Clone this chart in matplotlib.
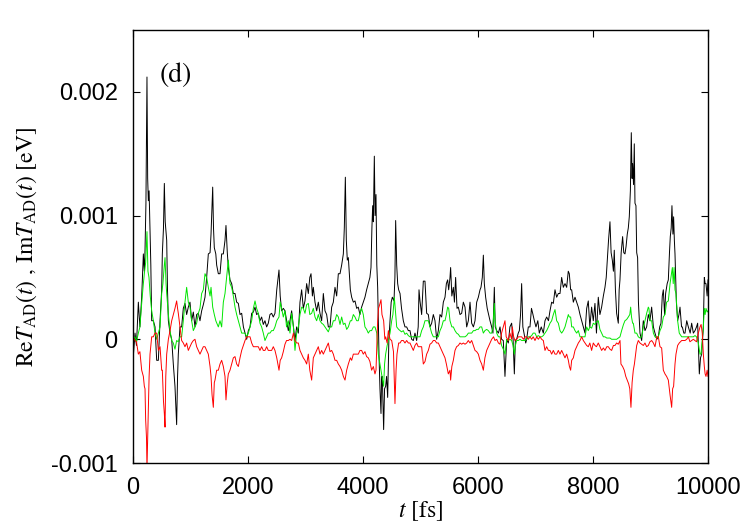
import matplotlib
matplotlib.use("Agg")
import matplotlib.pyplot as plt
import numpy as np

# ---- data: (t [fs], value [1e-3 eV]) ----
black_pts = [
(0,-0.17),(35,0.05),(60,-0.05),(93,0.30),(120,0.10),(151,0.34),(180,0.69),(197,0.55),(209,0.72),(225,1.10),(243,2.12),(255,1.30),(267,1.12),(280,1.20),(296,0.88),(310,0.60),(325,0.15),(354,0.15),(383,0.10),(412,-0.17),(441,-0.17),(470,0.15),(499,0.40),(510,0.69),(530,0.90),(545,1.26),(560,0.95),(586,0.80),(600,0.40),(615,0.15),(644,0.05),(673,0.00),(701,-0.20),(730,-0.38),(745,-0.55),(759,-0.69),(775,-0.30),(788,-0.12),(817,0.10),(846,0.10),(875,0.25),(904,0.29),(933,0.20),(962,0.26),(991,0.30),(1020,0.15),(1049,0.22),(1078,0.10),(1107,0.20),(1136,0.21),(1165,0.15),(1194,0.23),(1223,0.28),(1252,0.34),(1281,0.50),(1310,0.69),(1340,0.70),(1357,0.85),(1386,1.23),(1400,0.90),(1414,0.74),(1440,0.69),(1455,0.60),(1484,0.53),(1513,0.53),(1542,0.69),(1571,0.69),(1600,0.80),(1617,0.92),(1640,0.70),(1658,0.58),(1687,0.48),(1716,0.45),(1745,0.37),(1774,0.37),(1803,0.30),(1832,0.29),(1861,0.20),(1890,0.21),(1920,0.10),(1948,0.05),(1977,0.00),(2006,0.07),(2035,0.10),(2064,0.21),(2093,0.22),(2122,0.26),(2150,0.20),(2179,0.21),(2208,0.15),(2237,0.18),(2266,0.12),(2295,0.15),(2324,0.10),(2353,0.13),(2382,0.20),(2411,0.21),(2440,0.18),(2469,0.21),(2500,0.40),(2539,0.56),(2560,0.35),(2585,0.23),(2614,0.25),(2643,0.23),
(2701,0.07),(2730,0.15),(2759,0.23),(2790,0.10),(2817,-0.01),(2846,0.10),(2875,0.05),(2904,0.30),(2933,0.40),(2962,0.25),(2991,0.31),(3020,0.45),(3049,0.37),(3075,0.50),(3096,0.53),(3120,0.35),(3136,0.42),(3165,0.30),(3194,0.23),(3223,0.30),(3252,0.21),(3281,0.15),(3310,0.37),(3339,0.23),(3368,0.20),(3397,0.10),(3426,0.10),(3455,0.26),(3484,0.30),(3513,0.42),(3542,0.35),(3571,0.53),(3600,0.53),(3629,0.60),(3658,0.69),(3675,0.90),(3693,1.31),(3710,0.80),(3727,0.64),(3745,0.66),(3756,0.58),(3780,0.40),(3803,0.34),(3832,0.30),(3861,0.31),(3890,0.25),(3918,0.26),(3947,0.20),(3976,0.26),(4005,0.30),(4034,0.34),(4063,0.40),(4092,0.45),(4120,0.50),(4139,0.58),(4155,0.90),(4168,1.08),(4180,0.95),(4197,1.48),(4210,1.00),(4226,1.17),(4240,0.60),(4255,0.42),(4266,0.15),(4278,-0.12),(4295,-0.40),(4313,-0.60),(4324,-0.30),(4336,-0.30),(4359,-0.73),(4375,-0.40),(4394,-0.38),(4410,-0.30),(4429,-0.47),(4450,0.00),(4470,0.15),(4490,0.30),(4510,0.34),(4539,0.31),(4555,0.50),(4568,0.96),(4586,0.60),(4603,0.45),(4620,0.40),(4644,0.37),(4670,0.25),(4701,0.15),(4730,0.10),(4759,0.10),(4788,0.07),(4817,0.07),(4846,0.00),(4875,-0.01),(4904,0.05),(4933,-0.01),(4960,0.10),(4974,0.40),(4991,0.31),(5020,0.20),(5049,0.47),(5078,0.47),
(5107,0.21),(5136,0.20),(5165,0.10),(5194,0.13),(5223,0.20),(5252,0.15),(5281,0.00),(5310,0.07),(5339,0.20),(5368,0.18),(5397,0.30),(5426,0.34),(5450,0.45),(5472,0.48),(5490,0.40),(5513,0.50),(5524,0.58),(5545,0.35),(5571,0.42),(5590,0.30),(5611,0.50),(5635,0.25),(5658,0.26),(5687,0.20),(5716,0.21),(5745,0.30),(5774,0.26),(5803,0.10),(5832,0.15),(5861,0.30),(5890,0.13),(5920,0.10),(5948,0.15),(5977,0.30),(6006,0.34),(6035,0.40),(6052,0.42),(6075,0.50),(6093,0.68),(6110,0.45),(6133,0.34),(6160,0.25),(6180,0.21),(6209,0.15),(6238,0.10),(6260,0.05),(6284,0.42),(6300,0.10),(6325,0.07),(6355,0.05),(6383,0.10),(6410,0.00),(6440,-0.01),(6469,-0.30),(6500,0.00),(6527,-0.03),(6555,0.10),(6585,0.13),(6610,0.00),(6632,-0.28),(6650,-0.01),(6672,0.00),(6700,0.05),(6719,0.07),(6740,0.20),(6759,0.45),(6780,0.10),(6800,0.05),(6830,-0.03),(6846,0.00),(6875,0.10),(6904,0.10),(6930,0.25),(6951,0.21),(6980,0.15),(7008,0.10),(7040,0.15),(7066,0.05),(7100,0.10),(7136,0.05),(7165,0.15),(7194,0.18),(7225,0.15),(7252,0.23),(7281,0.30),(7310,0.29),(7339,0.40),(7368,0.34),(7397,0.37),(7426,0.37),(7455,0.50),(7484,0.42),(7513,0.45),(7542,0.42),(7570,0.55),(7588,0.53),(7611,0.40),(7629,0.40),(7658,0.30),(7687,0.34),(7716,0.30),(7745,0.26),(7774,0.20),(7803,0.15),(7832,0.10),(7861,0.05),
(7890,0.25),(7918,0.31),(7945,0.10),(7976,0.26),(8005,0.15),(8034,0.29),(8060,0.05),(8092,0.34),(8120,0.20),(8150,0.26),(8180,0.35),(8208,0.42),(8230,0.50),(8248,0.64),(8270,0.80),(8295,0.95),(8315,0.70),(8336,0.64),(8355,0.55),(8370,0.72),(8390,0.40),(8411,0.21),(8440,0.13),(8455,0.40),(8469,0.48),(8490,0.70),(8515,0.83),(8535,0.70),(8556,0.69),(8575,0.75),(8596,0.85),(8614,0.90),(8631,0.99),(8650,1.20),(8666,1.67),(8680,1.30),(8689,1.42),(8705,1.25),(8718,1.58),(8730,1.10),(8747,1.08),(8760,0.70),(8776,0.66),(8790,0.30),(8817,0.05),(8846,-0.01),(8875,0.15),(8904,0.07),(8933,0.10),(8962,0.20),(8990,0.15),(9020,0.26),(9050,0.10),(9078,0.05),(9110,0.00),(9136,0.02),(9160,0.10),(9182,0.13),(9205,0.35),(9223,0.40),(9245,0.20),(9263,0.37),(9290,0.45),(9310,0.48),(9330,0.70),(9344,0.83),(9360,0.90),(9373,1.08),(9390,0.85),(9402,0.99),(9415,0.80),(9426,0.69),(9450,0.30),(9472,0.15),(9495,0.20),(9513,0.26),(9540,0.10),(9553,0.10),(9580,0.05),(9600,0.05),(9630,0.15),(9658,0.10),(9690,0.05),(9716,0.13),(9745,0.05),(9774,0.07),(9800,0.10),(9820,0.13),(9849,-0.28),(9870,-0.15),(9890,-0.12),(9905,0.00),(9919,0.10),(9936,0.50),(9950,0.45),(9965,0.45),(9985,0.35),(10000,0.48),
]

green_pts = [
(0,0.00),(35,0.02),(60,-0.02),(93,0.05),(120,0.10),(151,0.29),(180,0.45),(197,0.53),(220,0.62),(243,0.87),(260,0.55),(278,0.50),(300,0.35),(325,0.23),(354,0.15),(383,0.05),(412,0.00),(441,0.05),(470,0.10),(499,0.37),(520,0.45),(545,0.60),(557,0.66),(575,0.45),(586,0.37),(615,0.20),(644,0.07),(673,-0.01),(701,-0.03),(730,-0.08),(759,-0.01),(788,-0.02),(817,0.02),(846,0.02),(875,0.15),(904,0.30),(933,0.42),(962,0.30),(991,0.26),(1020,0.15),(1049,0.07),(1078,0.10),(1107,0.13),(1136,0.21),(1165,0.25),(1194,0.37),(1223,0.40),(1252,0.53),(1281,0.50),(1310,0.42),(1340,0.35),(1357,0.42),(1386,0.26),(1414,0.20),(1440,0.15),(1484,0.10),(1513,0.15),(1542,0.10),(1571,0.30),(1600,0.37),(1617,0.45),(1640,0.55),(1658,0.64),(1687,0.45),(1716,0.42),(1745,0.35),(1774,0.26),(1803,0.20),(1832,0.15),(1861,0.10),(1890,0.05),(1920,0.05),(1948,0.05),(1977,0.02),(2006,0.05),(2035,0.10),(2064,0.15),(2093,0.25),(2122,0.31),(2150,0.25),(2179,0.21),(2208,0.13),(2237,0.10),(2266,0.05),(2295,-0.01),(2324,0.02),(2353,0.05),(2382,0.05),(2411,0.07),(2440,0.07),(2469,0.10),(2500,0.15),(2539,0.18),(2560,0.30),(2585,0.25),(2614,0.18),(2643,0.23),
(2670,0.10),(2701,0.15),(2730,0.05),(2759,0.21),(2790,0.10),(2817,-0.09),(2846,0.05),(2875,0.10),(2904,0.20),(2933,0.26),(2962,0.25),(2991,0.21),(3020,0.28),(3049,0.29),(3075,0.20),(3107,0.21),(3136,0.25),(3165,0.18),(3194,0.15),(3223,0.20),(3252,0.15),(3281,0.13),(3310,0.12),(3339,0.10),(3368,0.08),(3397,0.06),(3426,0.10),(3455,0.10),(3484,0.15),(3513,0.15),(3542,0.20),(3571,0.18),(3600,0.12),(3629,0.18),(3658,0.12),(3687,0.13),(3716,0.08),(3745,0.10),(3780,0.15),(3803,0.15),(3832,0.20),(3861,0.18),(3890,0.15),(3918,0.15),(3947,0.21),(3976,0.25),(4005,0.20),(4034,0.10),(4063,0.08),(4092,0.05),(4120,0.07),(4150,0.07),(4180,0.10),(4208,0.10),(4240,0.05),(4266,-0.12),(4295,-0.20),(4324,-0.28),(4359,-0.38),(4375,-0.20),(4394,-0.12),(4420,-0.05),(4441,-0.01),(4470,0.05),(4499,0.15),(4520,0.20),(4545,0.34),(4570,0.20),(4586,0.10),(4620,0.08),(4644,0.07),(4670,0.06),(4701,0.07),(4730,0.04),(4759,0.05),(4788,0.03),(4817,0.02),(4846,0.02),(4875,0.02),(4904,0.02),(4933,0.02),(4960,0.02),(4991,0.02),(5020,0.07),(5049,0.10),(5078,0.15),
(5107,0.15),(5136,0.15),(5165,0.10),(5194,0.05),(5223,0.02),(5252,0.02),(5281,0.02),(5310,0.02),(5339,0.07),(5368,0.10),(5397,0.15),(5426,0.15),(5450,0.20),(5472,0.26),(5490,0.25),(5513,0.15),(5545,0.10),(5571,0.10),(5600,0.07),(5628,0.05),(5658,0.04),(5687,0.02),(5716,0.02),(5745,0.02),(5774,0.02),(5803,0.03),(5832,0.05),(5861,0.05),(5890,0.05),(5920,0.07),(5948,0.07),(5977,0.08),(6006,0.08),(6035,0.10),(6064,0.10),(6093,0.05),(6120,0.07),(6151,0.08),(6180,0.07),(6209,0.05),(6238,0.05),(6260,0.10),(6284,0.29),(6296,0.15),(6325,0.05),(6355,0.02),(6383,0.02),(6410,-0.05),(6440,-0.08),(6469,-0.12),(6500,0.00),(6527,-0.01),(6555,0.00),(6585,-0.01),(6610,-0.05),(6632,-0.12),(6650,-0.05),(6672,-0.01),(6701,-0.01),(6730,0.00),(6759,-0.01),(6790,-0.01),(6817,-0.01),(6846,0.00),(6875,0.02),(6904,0.02),(6933,0.03),(6960,0.05),(6991,0.05),(7020,0.02),(7050,0.03),(7078,0.02),(7107,0.02),(7136,0.03),(7165,0.05),(7194,0.07),(7225,0.10),(7252,0.13),(7281,0.15),(7310,0.20),(7339,0.24),(7368,0.15),(7397,0.13),(7426,0.07),(7455,0.05),(7484,0.07),(7513,0.10),(7542,0.15),(7571,0.20),(7588,0.18),(7611,0.18),(7629,0.10),(7658,0.10),(7687,0.07),(7716,0.05),(7745,0.07),(7774,0.02),(7803,0.02),(7832,0.02),(7861,0.02),
(7890,0.10),(7918,0.07),(7945,0.10),(7976,0.09),(8005,0.13),(8034,0.12),(8060,0.14),(8092,0.15),(8120,0.08),(8150,0.05),(8180,0.02),(8208,0.02),(8240,0.01),(8266,0.01),(8295,0.01),(8324,0.00),(8355,0.00),(8382,0.00),(8411,0.00),(8440,0.01),(8469,0.02),(8498,0.07),(8530,0.12),(8556,0.15),(8585,0.16),(8614,0.18),(8640,0.20),(8655,0.26),(8670,0.18),(8689,0.13),(8701,0.13),(8730,0.05),(8759,0.05),(8788,0.02),(8817,0.01),(8846,0.02),(8875,0.10),(8904,0.15),(8933,0.21),(8962,0.26),(8973,0.25),(8990,0.15),(9020,0.15),(9050,0.05),(9078,0.02),(9110,0.01),(9136,0.02),(9165,0.07),(9194,0.10),(9223,0.18),(9252,0.20),(9280,0.30),(9310,0.31),(9340,0.45),(9365,0.53),(9380,0.58),(9395,0.45),(9410,0.58),(9426,0.40),(9443,0.37),(9472,0.15),(9500,0.05),(9542,0.02),(9570,0.02),(9600,0.02),(9640,0.02),(9686,0.02),(9716,0.02),(9745,0.02),(9774,0.03),(9800,0.02),(9832,-0.03),(9860,-0.12),(9878,-0.12),(9900,0.00),(9919,0.10),(9936,0.25),(9950,0.20),(9965,0.25),(9985,0.22),(10000,0.23),
]

red_pts = [
(0,0.02),(35,-0.01),(60,-0.02),(93,-0.12),(120,-0.10),(151,-0.25),(180,-0.30),(197,-0.38),(209,-0.40),(220,-0.65),(235,-0.80),(243,-1.05),(255,-0.80),(267,-0.52),(280,-0.30),(296,-0.12),(325,0.02),(354,0.02),(383,0.05),(412,0.05),(441,-0.09),(470,-0.06),(499,-0.25),(510,-0.25),(530,-0.50),(545,-0.60),(557,-0.71),(570,-0.30),(586,-0.12),(615,0.00),(644,0.07),(673,0.15),(701,0.20),(730,0.25),(759,0.31),(775,0.25),(788,0.21),(817,0.10),(846,-0.01),(875,-0.03),(904,-0.06),(933,-0.03),(962,-0.09),(991,-0.06),(1020,-0.03),(1049,-0.01),(1078,0.00),(1107,-0.06),(1136,-0.09),(1165,-0.12),(1194,-0.09),(1223,-0.06),(1252,-0.06),(1281,-0.09),(1310,-0.12),(1340,-0.22),(1357,-0.30),(1375,-0.45),(1397,-0.55),(1414,-0.35),(1426,-0.33),(1455,-0.25),(1484,-0.25),(1513,-0.20),(1542,-0.17),(1571,-0.22),(1600,-0.30),(1617,-0.49),(1640,-0.35),(1658,-0.28),(1687,-0.25),(1716,-0.20),(1745,-0.15),(1774,-0.14),(1803,-0.20),(1832,-0.22),(1861,-0.15),(1890,-0.09),(1920,-0.05),(1948,-0.01),(1977,0.02),(2006,0.02),(2035,0.02),(2064,-0.03),(2093,-0.06),(2122,-0.06),(2150,-0.06),(2179,-0.06),(2208,-0.09),(2237,-0.06),(2266,-0.09),(2295,-0.09),(2324,-0.06),(2353,-0.09),(2382,-0.09),(2411,-0.09),(2440,-0.06),(2469,-0.09),(2500,-0.15),(2539,-0.25),(2560,-0.17),(2585,-0.15),(2614,-0.10),(2643,-0.04),
(2670,-0.01),(2701,-0.01),(2730,0.00),(2759,-0.01),(2790,0.05),(2817,-0.01),(2846,-0.03),(2875,-0.03),(2904,-0.09),(2933,-0.12),(2962,-0.15),(2991,-0.17),(3020,-0.20),(3049,-0.12),(3075,-0.25),(3107,-0.33),(3136,-0.15),(3165,-0.12),(3194,-0.09),(3223,-0.06),(3252,-0.12),(3281,-0.09),(3310,-0.12),(3339,-0.09),(3368,-0.06),(3397,-0.03),(3426,-0.10),(3455,-0.09),(3484,-0.12),(3513,-0.17),(3542,-0.17),(3571,-0.20),(3600,-0.22),(3629,-0.25),(3658,-0.30),(3687,-0.33),(3716,-0.25),(3745,-0.20),(3780,-0.15),(3803,-0.17),(3832,-0.12),(3861,-0.12),(3890,-0.12),(3918,-0.12),(3947,-0.09),(3976,-0.09),(4005,-0.12),(4034,-0.10),(4063,-0.14),(4092,-0.15),(4120,-0.18),(4150,-0.25),(4180,-0.22),(4208,-0.28),(4226,-0.25),(4255,0.15),(4270,0.25),(4290,0.28),(4313,0.32),(4330,0.20),(4359,0.15),(4380,0.00),(4394,0.02),(4420,-0.03),(4441,0.07),(4470,0.00),(4499,-0.01),(4530,-0.10),(4556,-0.52),(4575,-0.25),(4591,-0.12),(4620,-0.03),(4644,-0.03),(4670,-0.01),(4701,-0.01),(4730,-0.03),(4759,-0.01),(4788,-0.03),(4817,-0.03),(4846,-0.06),(4875,-0.09),(4904,-0.05),(4933,-0.03),(4960,-0.06),(4991,-0.06),(5020,-0.06),(5049,-0.20),(5078,-0.18),
(5107,-0.12),(5136,-0.09),(5165,-0.04),(5194,-0.03),(5223,-0.01),(5252,-0.01),(5281,-0.03),(5310,-0.03),(5339,-0.06),(5368,-0.09),(5397,-0.12),(5426,-0.15),(5450,-0.20),(5484,-0.28),(5513,-0.25),(5524,-0.33),(5545,-0.22),(5571,-0.17),(5600,-0.09),(5628,-0.06),(5658,-0.05),(5687,-0.03),(5716,-0.04),(5745,-0.03),(5774,-0.04),(5803,-0.03),(5832,-0.01),(5861,-0.03),(5890,-0.01),(5920,-0.05),(5948,-0.09),(5977,-0.10),(6006,-0.12),(6035,-0.17),(6064,-0.20),(6093,-0.25),(6120,-0.15),(6151,-0.09),(6180,-0.06),(6209,-0.03),(6238,0.00),(6270,0.02),(6296,-0.01),(6325,0.00),(6355,-0.03),(6383,-0.04),(6410,0.05),(6440,0.10),(6469,0.15),(6490,0.02),(6527,-0.01),(6555,0.05),(6585,0.00),(6597,0.10),(6620,0.02),(6643,-0.01),(6672,0.00),(6701,0.02),(6730,0.02),(6759,0.02),(6790,0.00),(6817,0.02),(6846,0.02),(6875,0.00),(6904,0.02),(6933,0.00),(6960,0.02),(6991,-0.01),(7020,0.02),(7050,0.00),(7078,0.02),(7107,0.00),(7136,-0.01),(7165,-0.09),(7194,-0.06),(7225,-0.09),(7252,-0.09),(7281,-0.12),(7310,-0.09),(7339,-0.12),(7368,-0.12),(7397,-0.09),(7426,-0.12),(7455,-0.09),(7484,-0.12),(7513,-0.15),(7542,-0.12),(7571,-0.17),(7590,-0.22),(7611,-0.25),(7629,-0.17),(7658,-0.15),(7687,-0.09),(7716,-0.06),(7745,-0.03),(7774,-0.01),(7803,0.02),(7832,-0.01),(7861,-0.03),
(7890,-0.05),(7918,-0.06),(7945,-0.03),(7976,-0.09),(8005,-0.03),(8034,-0.05),(8060,-0.06),(8092,-0.03),(8120,-0.06),(8150,-0.09),(8180,-0.07),(8208,-0.09),(8240,-0.06),(8266,-0.06),(8295,-0.08),(8324,-0.09),(8355,-0.05),(8382,-0.05),(8411,-0.03),(8440,-0.04),(8470,-0.01),(8486,-0.20),(8515,-0.22),(8544,-0.25),(8570,-0.30),(8596,-0.33),(8620,-0.36),(8640,-0.40),(8660,-0.55),(8680,-0.35),(8701,-0.25),(8720,-0.20),(8741,-0.12),(8760,-0.05),(8788,-0.01),(8817,-0.03),(8846,-0.04),(8875,-0.05),(8904,-0.03),(8933,-0.06),(8962,-0.05),(8990,-0.02),(9020,-0.01),(9050,-0.03),(9078,-0.06),(9110,0.02),(9136,0.02),(9165,-0.06),(9194,-0.07),(9223,-0.25),(9252,-0.28),(9280,-0.30),(9310,-0.33),(9340,-0.45),(9368,-0.55),(9385,-0.40),(9402,-0.38),(9426,-0.20),(9443,-0.12),(9472,-0.05),(9500,-0.03),(9542,-0.01),(9570,-0.01),(9600,-0.01),(9630,0.00),(9658,0.02),(9686,-0.02),(9716,-0.01),(9745,0.00),(9774,-0.01),(9800,-0.02),(9832,0.05),(9861,0.10),(9880,0.12),(9900,0.05),(9919,-0.12),(9936,-0.22),(9950,-0.28),(9965,-0.30),(9985,-0.25),(10000,-0.30),
]

x_ticks = [0, 2000, 4000, 6000, 8000, 10000]
y_ticks = [-0.001, 0, 0.001, 0.002]
y_ticklabels = ["-0.001", "0", "0.001", "0.002"]
panel_label = "(d)"

plt.rcParams['mathtext.fontset'] = 'stix'

fig = plt.figure(figsize=(7.51, 5.26), dpi=100)
ax = fig.add_axes([133/751, 63/526, 575/751, 433/526])

for pts, col in [(black_pts, '#000000'), (green_pts, '#00e600'), (red_pts, '#ff0000')]:
    t, v = zip(*pts)
    ax.plot(np.array(t), np.array(v) * 1e-3, color=col, lw=0.7)

ax.set_xlim(0, 10000)
ax.set_ylim(-0.001, 0.0025)
ax.set_xticks(x_ticks)
ax.set_xticklabels([str(x) for x in x_ticks], family='Liberation Sans', fontsize=17)
ax.set_yticks(y_ticks)
ax.set_yticklabels(y_ticklabels, family='Liberation Sans', fontsize=17)
ax.tick_params(direction='in', length=5, width=0.8, top=True, right=True)
ax.tick_params(axis='y', pad=11)
ax.tick_params(axis='x', pad=10)
for s in ax.spines.values():
    s.set_linewidth(1.0)

ax.set_xlabel(r'$t$ [fs]', family='STIXGeneral', fontsize=17, labelpad=0)
ax.set_ylabel(r'Re$T_{\rm AD}(t)$ , Im$T_{\rm AD}(t)$ [eV]', family='STIXGeneral', fontsize=17)
ax.yaxis.set_label_coords(-0.163, 0.5)
ax.text(0.047, 0.895, panel_label, transform=ax.transAxes, family='STIXGeneral',
        fontsize=20, va='center', ha='left')

fig.savefig('out.png', dpi=100)
